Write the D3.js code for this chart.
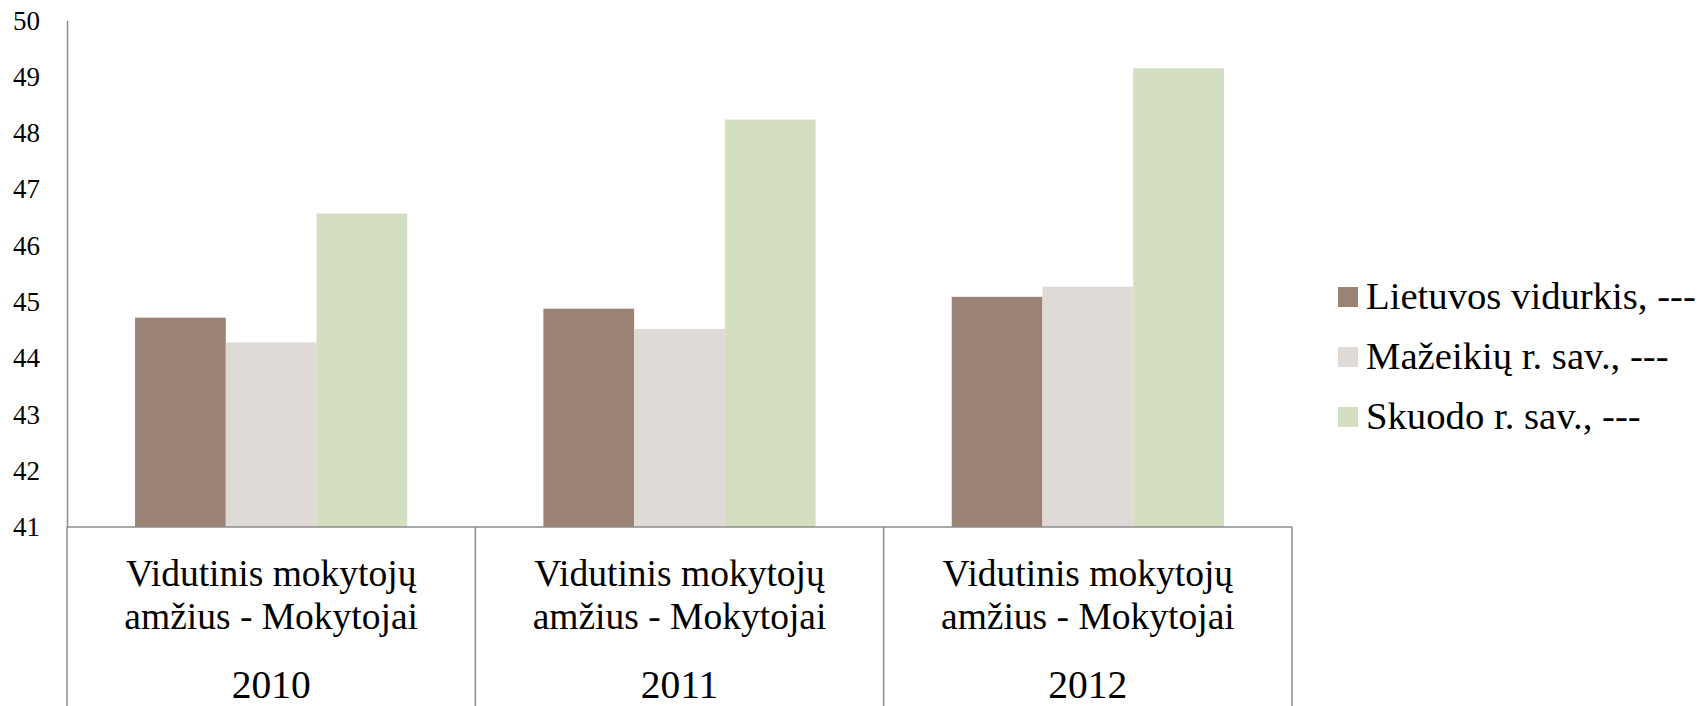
<!DOCTYPE html>
<html>
<head>
<meta charset="utf-8">
<script src="https://cdn.jsdelivr.net/npm/d3@7"></script>
<style>
  html, body { margin: 0; padding: 0; background: #fff; }
</style>
</head>
<body>
<script>
const categories = ["2010", "2011", "2012"];
const categoryLines = ["Vidutinis mokytojų", "amžius - Mokytojai"];
const seriesNames = ["Lietuvos vidurkis, ---", "Mažeikių r. sav., ---", "Skuodo r. sav., ---"];
const lietuvos = [44.72, 44.88, 45.09];
const mazeikiu = [44.28, 44.52, 45.27];
const skuodo = [46.57, 48.24, 49.15];
const yTicks = [41, 42, 43, 44, 45, 46, 47, 48, 49, 50];
const colors = ["#9a8374", "#dfdad6", "#d3dfc0"];

const width = 1707;
const height = 706;
const margin = {top: 20.5, right: 415, bottom: 179, left: 67};
const axisColor = "#8c8c8c";
const FONT = '"Liberation Serif"';

const values = [lietuvos, mazeikiu, skuodo];
const rows = categories.flatMap((cat, i) =>
  seriesNames.map((name, s) => ({cat, name, s, value: values[s][i]}))
);

const x = d3.scaleBand()
  .domain(categories)
  .range([margin.left, width - margin.right]);

const bw = x.bandwidth();
// gap width 150%: bars fill 3 / 4.5 of a band
const x1 = d3.scaleBand()
  .domain(seriesNames)
  .range([bw / 6, bw - bw / 6]);

const y = d3.scaleLinear()
  .domain([41, 50])
  .range([height - margin.bottom, margin.top]);

const color = d3.scaleOrdinal().domain(seriesNames).range(colors);

const svg = d3.select("body").append("svg")
  .attr("width", width)
  .attr("height", height)
  .attr("viewBox", [0, 0, width, height]);

svg.append("g")
  .selectAll("rect")
  .data(rows)
  .join("rect")
  .attr("x", (d) => x(d.cat) + x1(d.name))
  .attr("y", (d) => y(d.value))
  .attr("width", x1.bandwidth())
  .attr("height", (d) => y(41) - y(d.value))
  .attr("fill", (d) => color(d.name));

// y axis
svg.append("g")
  .attr("transform", `translate(${margin.left},0)`)
  .call(d3.axisLeft(y).tickValues(yTicks).tickSize(0).tickSizeOuter(0).tickPadding(27))
  .call((g) => g.select(".domain").attr("stroke", axisColor).attr("stroke-width", 1.5))
  .call((g) => g.selectAll(".tick text")
    .attr("fill", "#000")
    .style("font-family", FONT)
    .style("font-size", "27px"));

// x axis baseline and category separators
const xAxis = svg.append("g").attr("transform", `translate(0,${y(41)})`);
xAxis.append("line")
  .attr("x1", margin.left)
  .attr("x2", width - margin.right)
  .attr("stroke", axisColor)
  .attr("stroke-width", 1.5);

const edges = categories.map((c) => x(c)).concat([x(categories[categories.length - 1]) + bw]);
xAxis.selectAll("line.sep")
  .data(edges)
  .join("line")
  .attr("class", "sep")
  .attr("x1", (d) => d)
  .attr("x2", (d) => d)
  .attr("y1", 0)
  .attr("y2", margin.bottom + 2)
  .attr("stroke", axisColor)
  .attr("stroke-width", 1.5);

const labels = xAxis.selectAll("g.cat")
  .data(categories)
  .join("g")
  .attr("class", "cat")
  .attr("transform", (d) => `translate(${x(d) + bw / 2},0)`)
  .attr("text-anchor", "middle")
  .attr("fill", "#000");

labels.selectAll("text.line")
  .data(categoryLines)
  .join("text")
  .attr("class", "line")
  .attr("y", (d, i) => 59 + i * 43)
  .style("font-family", FONT)
  .style("font-size", "37.5px")
  .text((d) => d);

labels.append("text")
  .attr("y", 171)
  .style("font-family", FONT)
  .style("font-size", "39.5px")
  .text((d) => d);

// legend
const legend = svg.append("g")
  .attr("transform", "translate(1338,297)");

const item = legend.selectAll("g")
  .data(seriesNames)
  .join("g")
  .attr("transform", (d, i) => `translate(0,${i * 60})`);

item.append("rect")
  .attr("y", -10)
  .attr("width", 20)
  .attr("height", 20)
  .attr("fill", (d) => color(d));

item.append("text")
  .attr("x", 28)
  .attr("y", 12)
  .attr("fill", "#000")
  .style("font-family", FONT)
  .style("font-size", "38.7px")
  .text((d) => d);
</script>
</body>
</html>
